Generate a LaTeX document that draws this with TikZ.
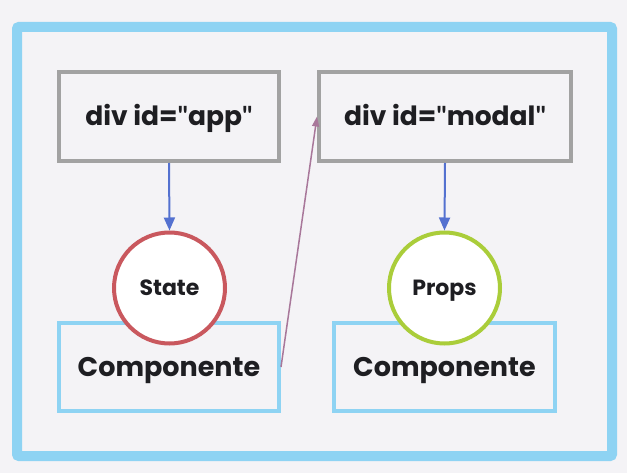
\documentclass[tikz,border=0pt]{standalone}
\usepackage{fontspec}
\setmainfont{Poppins}[Ligatures=NoCommon]
\newfontfamily\quotefont{Lato}
\usetikzlibrary{arrows.meta}
\definecolor{bgc}{HTML}{F4F3F6}
\definecolor{frame}{HTML}{8ED3F3}
\definecolor{grayb}{HTML}{A2A2A2}
\definecolor{arrowblue}{HTML}{5471D0}
\definecolor{statered}{HTML}{C9585E}
\definecolor{propsgreen}{HTML}{AACD3A}
\definecolor{pinkarrow}{HTML}{A8779A}
\definecolor{txt}{HTML}{1E1E22}
\newcommand{\dq}{{\quotefont\bfseries\char34}}
\tikzset{
  divbox/.style={draw=grayb, line width=4pt, fill=bgc, minimum height=89pt, text=txt, font=\fontsize{26.5}{29}\selectfont\bfseries, inner sep=0pt, text height=21pt, text depth=2pt},
  compbox/.style={draw=frame, line width=4pt, fill=bgc, minimum width=220pt, minimum height=88pt, text=txt, font=\fontsize{27}{30}\selectfont\bfseries, inner sep=0pt, text height=22pt, text depth=2pt},
  bubble/.style={circle, line width=4pt, fill=white, minimum size=111pt, inner sep=0pt, text=txt, font=\fontsize{22}{25}\selectfont\bfseries, text height=17pt, text depth=2pt},
  downarrow/.style={draw=arrowblue, line width=2pt, -{Triangle[length=13pt,width=11pt]}},
}
\begin{document}
\begin{tikzpicture}[x=1pt,y=-1pt]
\fill[bgc] (0,0) rectangle (627,473);
\useasboundingbox (0,0) rectangle (627,473);
\draw[frame, line width=10pt, rounded corners=2pt] (17,27) rectangle (612,456);
\node[divbox, minimum width=220pt] (app) at (169,116.5) {div id=\dq app\dq};
\node[divbox, minimum width=252pt] (modal) at (445,116.5) {div id=\dq modal\dq};
\node[compbox] (compL) at (169,367) {Componente};
\node[compbox, minimum width=221pt] (compR) at (444.5,367) {Componente};
\node[bubble, draw=statered] (state) at (169.5,288) {State};
\node[bubble, draw=propsgreen] (props) at (444.5,288) {Props};
\draw[downarrow] (app.south) -- (state.north);
\draw[downarrow] (modal.south) -- (props.north);
\draw[draw=pinkarrow, line width=1.5pt, -{Triangle[length=10pt,width=7pt]}] (compL.east) -- (modal.west);
\end{tikzpicture}
\end{document}
